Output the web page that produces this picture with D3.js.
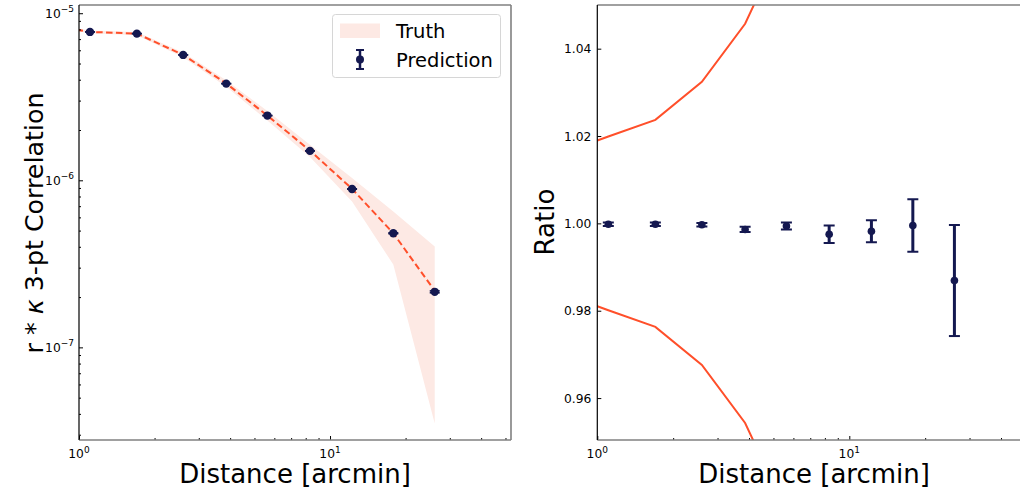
<!DOCTYPE html>
<html><head><meta charset="utf-8">
<script src="https://cdn.jsdelivr.net/npm/d3@7"></script>
<style>
body{margin:0;background:#fff;}
svg{display:block;font-family:"DejaVu Sans",sans-serif;}
</style></head>
<body><svg id="c" width="1020" height="491"></svg>
<script>
// ---------- data ----------
const distances = [0.747, 1.106, 1.70, 2.60, 3.86, 5.63, 8.32, 12.24, 17.87, 26.13];
const truthValues = [8.5e-6, 7.73e-6, 7.55e-6, 5.63e-6, 3.80e-6, 2.44e-6, 1.505e-6, 8.89e-7, 4.82e-7, 2.18e-7];
const truthSigma = [1.39e-7, 1.54e-7, 1.79e-7, 1.82e-7, 1.74e-7, 1.61e-7, 1.28e-7, 1.42e-7, 1.69e-7, 1.83e-7];
const predDistances = [1.106, 1.70, 2.60, 3.86, 5.63, 8.32, 12.24, 17.87, 26.13];
const predValues = [7.73e-6, 7.55e-6, 5.63e-6, 3.79e-6, 2.44e-6, 1.50e-6, 8.87e-7, 4.82e-7, 2.15e-7];
const predErrors = [3.0e-9, 3.0e-9, 2.0e-9, 2.3e-9, 2.0e-9, 3.0e-9, 2.2e-9, 2.9e-9, 2.8e-9];
const ratioValues = [0.9998, 0.9998, 0.9997, 0.9986, 0.9994, 0.9975, 0.9982, 0.9995, 0.9869];
const ratioErrors = [0.0004, 0.0004, 0.0004, 0.0006, 0.0008, 0.0020, 0.0025, 0.0060, 0.0127];
const ratioUpper = [1.0163, 1.0199, 1.0237, 1.0324, 1.0457, 1.066, 1.085, 1.16, 1.35, 1.84];
const ratioLower = [0.9837, 0.9801, 0.9763, 0.9676, 0.9543, 0.934, 0.915, 0.84, 0.65, 0.16];
const yMajorTicks = [1e-7, 1e-6, 1e-5];
const yMajorExp = ["−7", "−6", "−5"];
const xMajorTicks = [1, 10];
const xMajorExp = ["0", "1"];
const ratioTicks = [0.96, 0.98, 1.00, 1.02, 1.04];
const ratioTickLabels = ["0.96", "0.98", "1.00", "1.02", "1.04"];

// ---------- style ----------
const ORANGE = "#ff4f2a", BAND = "#fde9e4", NAVY = "#141850", SPINE = "#808080";
const TICKFS = 12.3, LABELFS = 26;
const svg = d3.select("#c");

function minorLog(lo, hi) {
  const out = [];
  for (let e = Math.floor(Math.log10(lo)); e <= Math.ceil(Math.log10(hi)); e++)
    for (let k = 2; k <= 9; k++) { const v = k * Math.pow(10, e); if (v >= lo && v <= hi) out.push(v); }
  return out;
}
function supLabel(g, x, y, anchor, exp) {
  const t = g.append("text").attr("x", x).attr("y", y).attr("text-anchor", anchor)
    .attr("font-size", TICKFS).attr("fill", "#000");
  t.append("tspan").text("10");
  t.append("tspan").attr("dy", -5.5).attr("font-size", 9).text(exp);
}
function frame(g, L, R, T, B) {
  g.append("line").attr("x1", L).attr("x2", R).attr("y1", T).attr("y2", T).attr("stroke", SPINE).attr("stroke-width", 1.6);
  g.append("line").attr("x1", L).attr("x2", R).attr("y1", B).attr("y2", B).attr("stroke", SPINE).attr("stroke-width", 1.6);
  g.append("line").attr("x1", R).attr("x2", R).attr("y1", T).attr("y2", B).attr("stroke", SPINE).attr("stroke-width", 1.6);
  g.append("line").attr("x1", L).attr("x2", L).attr("y1", T).attr("y2", B).attr("stroke", "#000").attr("stroke-width", 1.2);
}
function xAxis(g, x, B) {
  const xd = x.domain();
  const ax = g.append("g").attr("transform", `translate(0,${B})`);
  ax.call(d3.axisBottom(x).tickValues(xMajorTicks).tickSize(-4).tickFormat(""));
  ax.append("g").call(d3.axisBottom(x).tickValues(minorLog(xd[0], xd[1])).tickSize(-2).tickFormat(""));
  ax.selectAll(".domain").remove();
  ax.selectAll("line").attr("stroke", "#000").attr("stroke-width", 1);
  xMajorTicks.forEach((v, i) => supLabel(g, x(v), B + 18, "middle", xMajorExp[i]));
}

// ---------- left panel ----------
{
  const L = 79, R = 511, T = 5, B = 440;
  const x = d3.scaleLog().domain([1, 52.6]).range([L, R]);
  const y = d3.scaleLog().domain([2.79e-8, 1.12e-5]).range([B, T]);
  const g = svg.append("g");
  svg.append("clipPath").attr("id", "clipL").append("rect").attr("x", L).attr("y", T).attr("width", R - L).attr("height", B - T);
  const p = g.append("g").attr("clip-path", "url(#clipL)");
  const idx = d3.range(distances.length);
  p.append("path").datum(idx).attr("fill", BAND).attr("stroke", "none")
    .attr("d", d3.area().x(i => x(distances[i]))
      .y0(i => y(truthValues[i] - truthSigma[i])).y1(i => y(truthValues[i] + truthSigma[i])));
  p.append("path").datum(idx).attr("fill", "none").attr("stroke", ORANGE).attr("stroke-width", 2)
    .attr("stroke-dasharray", "6.5,3.4")
    .attr("d", d3.line().x(i => x(distances[i])).y(i => y(truthValues[i])));
  predDistances.forEach((d, i) => {
    const cx = x(d);
    const e = p.append("g");
    e.append("line").attr("x1", cx).attr("x2", cx).attr("y1", y(predValues[i] - predErrors[i])).attr("y2", y(predValues[i] + predErrors[i])).attr("stroke", NAVY).attr("stroke-width", 2);
    [predValues[i] - predErrors[i], predValues[i] + predErrors[i]].forEach(v =>
      e.append("line").attr("x1", cx - 5).attr("x2", cx + 5).attr("y1", y(v)).attr("y2", y(v)).attr("stroke", NAVY).attr("stroke-width", 1.6));
    e.append("circle").attr("cx", cx).attr("cy", y(predValues[i])).attr("r", 4.2).attr("fill", NAVY);
  });
  // y ticks
  const ay = g.append("g").attr("transform", `translate(${L},0)`);
  ay.call(d3.axisLeft(y).tickValues(yMajorTicks).tickSize(-4).tickFormat(""));
  ay.append("g").call(d3.axisLeft(y).tickValues(minorLog(2.79e-8, 1.12e-5)).tickSize(-2).tickFormat(""));
  ay.selectAll(".domain").remove();
  ay.selectAll("line").attr("stroke", "#000").attr("stroke-width", 1);
  yMajorTicks.forEach((v, i) => supLabel(g, L - 5, y(v) + 4.5, "end", yMajorExp[i]));
  xAxis(g, x, B);
  frame(g, L, R, T, B);
  // labels
  const yl = g.append("text").attr("transform", `translate(43,223) rotate(-90)`).attr("text-anchor", "middle")
    .attr("font-size", 25.3).attr("fill", "#000");
  yl.append("tspan").text("r * ");
  yl.append("tspan").attr("font-style", "italic").text("κ");
  yl.append("tspan").text(" 3-pt Correlation");
  g.append("text").attr("x", (L + R) / 2).attr("y", 483).attr("text-anchor", "middle").attr("font-size", LABELFS).text("Distance [arcmin]");
  // legend
  const lg = g.append("g");
  lg.append("rect").attr("x", 332.5).attr("y", 14.5).attr("width", 168).attr("height", 63).attr("rx", 3)
    .attr("fill", "#fff").attr("fill-opacity", 0.8).attr("stroke", "#d6d6d6");
  lg.append("rect").attr("x", 340).attr("y", 23.5).attr("width", 40).attr("height", 14.5).attr("fill", BAND);
  lg.append("text").attr("x", 396).attr("y", 37.5).attr("font-size", 19.5).text("Truth");
  lg.append("line").attr("x1", 360).attr("x2", 360).attr("y1", 50).attr("y2", 69).attr("stroke", NAVY).attr("stroke-width", 2.5);
  [50, 69].forEach(v => lg.append("line").attr("x1", 356).attr("x2", 364).attr("y1", v).attr("y2", v).attr("stroke", NAVY).attr("stroke-width", 2));
  lg.append("circle").attr("cx", 360).attr("cy", 59.5).attr("r", 4).attr("fill", NAVY);
  lg.append("text").attr("x", 396).attr("y", 66.5).attr("font-size", 19.5).text("Prediction");
}

// ---------- right panel ----------
{
  const L = 597.3, T = 5, B = 440;
  const R = L + 252 * Math.log10(52.6);
  const x = d3.scaleLog().domain([1, 52.6]).range([L, R]);
  const y = d3.scaleLinear().domain([0.9504, 1.05]).range([B, T]);
  const g = svg.append("g");
  svg.append("clipPath").attr("id", "clipR").append("rect").attr("x", L).attr("y", T).attr("width", R - L).attr("height", B - T);
  const p = g.append("g").attr("clip-path", "url(#clipR)");
  const idx = d3.range(distances.length);
  [ratioUpper, ratioLower].forEach(arr =>
    p.append("path").datum(idx).attr("fill", "none").attr("stroke", ORANGE).attr("stroke-width", 2)
      .attr("d", d3.line().x(i => x(distances[i])).y(i => y(arr[i]))));
  predDistances.forEach((d, i) => {
    const cx = x(d), lo = ratioValues[i] - ratioErrors[i], hi = ratioValues[i] + ratioErrors[i];
    const e = p.append("g");
    e.append("line").attr("x1", cx).attr("x2", cx).attr("y1", y(lo)).attr("y2", y(hi)).attr("stroke", NAVY).attr("stroke-width", 3);
    [lo, hi].forEach(v =>
      e.append("line").attr("x1", cx - 5.5).attr("x2", cx + 5.5).attr("y1", y(v)).attr("y2", y(v)).attr("stroke", NAVY).attr("stroke-width", 2));
    e.append("circle").attr("cx", cx).attr("cy", y(ratioValues[i])).attr("r", 3.8).attr("fill", NAVY);
  });
  const ay = g.append("g").attr("transform", `translate(${L},0)`);
  ay.call(d3.axisLeft(y).tickValues(ratioTicks).tickSize(-4).tickFormat(""));
  ay.selectAll(".domain").remove();
  ay.selectAll("line").attr("stroke", "#000").attr("stroke-width", 1);
  ratioTicks.forEach((v, i) => g.append("text").attr("x", L - 6).attr("y", y(v) + 4.5).attr("text-anchor", "end")
    .attr("font-size", TICKFS).text(ratioTickLabels[i]));
  xAxis(g, x, B);
  frame(g, L, R, T, B);
  g.append("text").attr("transform", `translate(554,222) rotate(-90)`).attr("text-anchor", "middle")
    .attr("font-size", LABELFS).text("Ratio");
  g.append("text").attr("x", (L + R) / 2).attr("y", 483).attr("text-anchor", "middle").attr("font-size", LABELFS).text("Distance [arcmin]");
}
</script></body></html>
